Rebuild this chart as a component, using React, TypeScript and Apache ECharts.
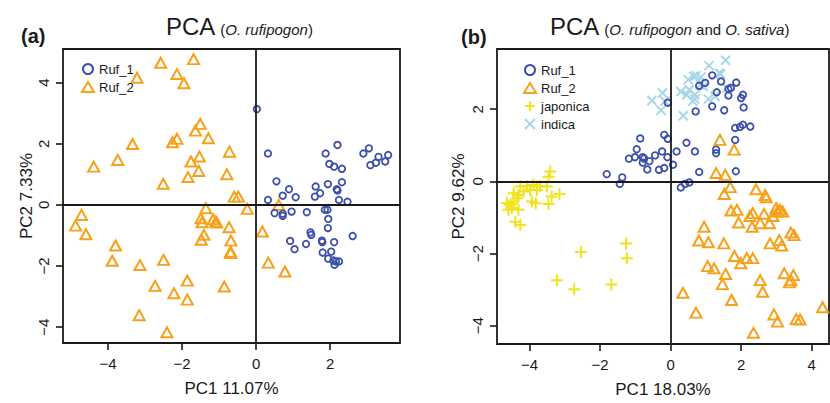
import React, { useEffect, useRef } from "react";
import * as echarts from "echarts";

// ---------- data (PC1, PC2) ----------
const aRuf1: number[][] = [
  [0.02, 3.13], [0.32, 1.68], [2.2, 1.96], [1.88, 1.68], [1.98, 1.34], [2.11, 1.25], [2.32, 1.18], [2.9, 1.68],
  [3.05, 1.85], [3.31, 1.57], [3.57, 1.63], [3.24, 1.38], [3.09, 1.3], [3.49, 1.42],
  [0.55, 0.77], [0.89, 0.51], [0.72, 0.3], [1.07, 0.25], [1.61, 0.6], [1.94, 0.68], [2.32, 0.74], [2.18, 0.51],
  [2.2, 0.47], [1.59, 0.27], [1.73, 0.38], [0.32, 0.16], [2.24, 0.16], [2.47, 0.1],
  [0.5, -0.27], [0.72, -0.29], [0.72, -0.36], [0.96, -0.22], [1.37, -0.24], [1.86, -0.16], [1.93, -0.16],
  [1.95, -0.46], [1.94, -0.76], [1.47, -0.9], [1.49, -0.98], [0.92, -1.18], [1.04, -1.45], [1.35, -1.28],
  [1.78, -1.17], [1.79, -1.22], [2.11, -1.22], [2.61, -1.02], [1.8, -1.56], [2.03, -1.53], [1.95, -1.76],
  [2.09, -1.82], [2.16, -1.85], [2.24, -1.85], [2.12, -1.96],
];

const aRuf2: number[][] = [
  [-2.58, 4.65], [-1.69, 4.77], [-3.22, 4.16], [-2.14, 4.28], [-1.95, 3.98], [-1.51, 2.65], [-1.64, 2.43],
  [-1.29, 2.18], [-2.14, 2.16], [-2.26, 2.05], [-3.34, 1.99], [-0.72, 1.74], [-1.53, 1.58], [-1.76, 1.42],
  [-3.74, 1.47], [-4.39, 1.25], [-1.55, 1.11], [-0.79, 1.0], [-2.51, 0.69], [-1.84, 0.91], [-0.59, 0.27],
  [-0.48, 0.27], [-4.72, -0.33], [-4.88, -0.68], [-4.6, -0.96], [-1.36, -0.11], [-1.49, -0.44], [-1.46, -0.57],
  [-1.16, -0.47], [-1.09, -0.55], [-1.06, -0.58], [-0.73, -0.73], [-1.41, -0.98], [-1.48, -1.14], [-0.68, -1.17],
  [-0.69, -1.53], [-0.69, -1.58], [-3.8, -1.33], [-3.89, -1.83], [-3.14, -1.97], [-2.5, -1.8], [-1.86, -2.48],
  [-2.73, -2.65], [-2.22, -2.89], [-1.86, -3.1], [-0.86, -2.67], [-3.16, -3.61], [-2.41, -4.17],
  [0.61, 0.0], [-0.24, -0.13], [0.17, -0.87], [0.33, -1.89], [0.78, -2.18],
];

const bRuf1: number[][] = [
  [-0.86, 1.19], [-0.18, 1.29], [-0.08, 1.18], [-0.96, 0.89], [-1.01, 0.67], [-1.18, 0.63], [-0.79, 0.67],
  [-0.75, 0.63], [-0.79, 0.52], [-0.6, 0.56], [-0.44, 0.72], [-0.24, 0.83], [-0.09, 0.67], [-0.66, 0.33],
  [-0.33, 0.32], [-0.18, 0.37], [-1.81, 0.2], [-1.37, 0.11], [-1.44, -0.07], [-0.08, 2.18],
  [1.18, 2.94], [1.43, 2.77], [1.86, 2.74], [0.81, 2.65], [0.98, 2.73], [1.31, 2.47], [1.64, 2.56], [1.71, 2.59],
  [1.64, 2.38], [2.05, 2.4], [2.0, 2.31], [2.07, 2.05], [0.71, 1.94], [1.18, 2.08], [1.52, 1.97], [1.83, 1.48],
  [1.97, 1.51], [2.05, 1.57], [2.26, 1.52], [1.83, 1.15], [0.45, 1.07], [0.17, 0.83], [0.69, 0.83], [1.29, 0.88],
  [1.29, 0.78], [0.07, 0.46], [0.81, 0.26], [1.85, 0.28], [0.29, -0.17], [0.41, -0.07], [0.53, -0.03],
];

const bRuf2: number[][] = [
  [1.4, 1.15], [1.8, 0.88], [1.29, 0.23], [1.55, 0.18], [1.69, -0.16], [1.52, -0.35], [2.42, -0.22], [2.68, -0.38],
  [2.71, -0.44], [1.71, -0.81], [1.88, -0.79], [2.25, -0.96], [2.33, -0.88], [2.65, -0.9], [2.99, -0.74],
  [3.1, -0.79], [3.18, -0.84], [3.03, -0.84], [2.9, -0.96], [1.93, -1.14], [2.31, -1.26], [2.54, -1.16],
  [2.8, -1.16], [0.95, -1.26], [0.8, -1.64], [1.07, -1.69], [1.51, -1.72], [2.82, -1.72], [3.08, -1.63],
  [3.15, -1.78], [3.41, -1.42], [3.5, -1.49], [1.81, -2.07], [1.99, -2.27], [2.16, -2.13], [2.33, -2.13],
  [1.05, -2.35], [1.23, -2.41], [1.56, -2.57], [1.47, -2.85], [2.54, -2.74], [2.61, -3.06], [3.22, -2.55],
  [3.48, -2.6], [3.41, -2.74], [3.37, -2.8], [0.35, -3.09], [1.73, -3.29], [0.72, -3.64], [2.93, -3.69],
  [3.03, -3.89], [3.56, -3.82], [3.67, -3.83], [2.35, -4.2], [4.31, -3.49],
];

const bJaponica: number[][] = [
  [-3.41, 0.27], [-3.46, 0.13], [-4.26, -0.14], [-4.07, -0.13], [-3.89, -0.1], [-3.79, -0.14], [-3.7, -0.13],
  [-3.51, -0.14], [-4.45, -0.33], [-4.31, -0.38], [-4.17, -0.28], [-3.98, -0.24], [-3.79, -0.24], [-4.64, -0.61],
  [-4.55, -0.65], [-4.5, -0.74], [-4.6, -0.79], [-4.45, -0.56], [-4.36, -0.47], [-4.31, -0.79], [-3.93, -0.56],
  [-3.82, -0.61], [-3.46, -0.63], [-3.37, -0.42], [-3.15, -0.35], [-4.4, -1.12], [-4.26, -1.21],
  [-1.26, -1.72], [-1.24, -2.13], [-2.54, -1.96], [-3.22, -2.74], [-2.73, -2.99], [-1.68, -2.86],
];

const bIndica: number[][] = [
  [-0.53, 2.24], [-0.23, 2.45], [-0.27, 1.97], [-0.16, 2.22], [0.36, 1.82], [1.56, 3.36], [1.09, 3.21],
  [1.38, 3.0], [1.42, 2.98], [0.5, 2.82], [0.65, 2.91], [0.72, 2.93], [0.86, 2.89], [0.84, 2.68], [0.93, 2.63],
  [0.29, 2.49], [0.46, 2.4], [0.53, 2.54], [0.69, 2.4], [0.63, 2.22], [0.69, 2.28], [1.07, 2.28], [1.26, 2.36],
  [1.59, 2.59],
];

const tickValsA = [-4, -2, 0, 2];
const tickValsAY = [-4, -2, 0, 2, 4];
const tickValsB = [-4, -2, 0, 2, 4];
const tickValsBY = [-4, -2, 0, 2];

const legendA = ["Ruf_1", "Ruf_2"];
const legendB = ["Ruf_1", "Ruf_2", "japonica", "indica"];

// ---------- styling ----------
const FONT = "'Liberation Sans', Arial, sans-serif";
const INK = "#1a1a1a";
const BLUE = "#3b4ea8";
const ORANGE = "#f7a11a";
const YELLOW = "#f0e41e";
const LBLUE = "#a7d7e7";
const PLUS = "path://M0,5L10,5M5,0L5,10";
const CROSS = "path://M0,0L10,10M0,10L10,0";

const fmt = (v: number) => (v < 0 ? "\u2212" + Math.abs(v) : String(v));

function xAxisFor(gridIndex: number, min: number, max: number, ticks: number[], name: string) {
  return {
    type: "value",
    gridIndex,
    min,
    max,
    name,
    nameLocation: "middle",
    nameGap: 37,
    nameTextStyle: { fontFamily: FONT, fontSize: 17, color: INK },
    axisLine: { show: false, onZero: false },
    axisTick: { show: true, length: 7, inside: false, customValues: ticks, lineStyle: { color: INK, width: 1.6 } },
    axisLabel: { customValues: ticks, formatter: fmt, fontFamily: FONT, fontSize: 15, color: INK, margin: 13 },
    splitLine: { show: false },
  };
}

function yAxisFor(gridIndex: number, min: number, max: number, ticks: number[], name: string, gap: number) {
  return {
    type: "value",
    gridIndex,
    min,
    max,
    name,
    nameLocation: "middle",
    nameGap: gap,
    nameRotate: 90,
    nameTextStyle: { fontFamily: FONT, fontSize: 17, color: INK },
    axisLine: { show: false, onZero: false },
    axisTick: { show: true, length: 7, inside: false, customValues: ticks, lineStyle: { color: INK, width: 1.6 } },
    axisLabel: { customValues: ticks, formatter: fmt, rotate: 90, fontFamily: FONT, fontSize: 15, color: INK, margin: 12 },
    splitLine: { show: false },
  };
}

function scatter(name: string, data: number[][], idx: number, symbol: string, size: number | number[], color: string, bw: number, zero = false) {
  const s: any = {
    type: "scatter",
    name,
    data,
    xAxisIndex: idx,
    yAxisIndex: idx,
    symbol,
    symbolSize: size,
    itemStyle: { color: "rgba(0,0,0,0)", borderColor: color, borderWidth: bw, opacity: 1 },
    emphasis: { disabled: true },
  };
  if (zero) {
    s.markLine = {
      silent: true,
      symbol: ["none", "none"],
      label: { show: false },
      lineStyle: { color: INK, width: 1.8, type: "solid" },
      data: [{ xAxis: 0 }, { yAxis: 0 }],
    };
  }
  return s;
}

export default function App() {
  const ref = useRef<HTMLDivElement>(null);
  useEffect(() => {
    document.body.style.margin = "0";
    if (!ref.current) return;
    const chart = echarts.init(ref.current, null, { renderer: "svg" });
    const titleRich = {
      big: { fontFamily: FONT, fontSize: 24, fontWeight: "normal", color: INK },
      sm: { fontFamily: FONT, fontSize: 15, fontWeight: "normal", color: INK, padding: [6, 0, 0, 0] },
      it: { fontFamily: FONT, fontSize: 15, fontWeight: "normal", color: INK, fontStyle: "italic", padding: [6, 0, 0, 0] },
    };
    chart.setOption({
      animation: false,
      backgroundColor: "#ffffff",
      title: [
        { text: "{big|PCA} {sm|(}{it|O. rufipogon}{sm|)}", left: 161, top: 9, textStyle: { fontWeight: "normal", rich: titleRich } },
        { text: "{big|PCA} {sm|(}{it|O. rufipogon}{sm| and }{it|O. sativa}{sm|)}", left: 545, top: 9, textStyle: { fontWeight: "normal", rich: titleRich } },
        { text: "(a)", left: 16, top: 21, textStyle: { fontFamily: FONT, fontSize: 20, fontWeight: "bold", color: INK } },
        { text: "(b)", left: 456, top: 22, textStyle: { fontFamily: FONT, fontSize: 20, fontWeight: "bold", color: INK } },
      ],
      legend: [
        {
          data: legendA,
          orient: "vertical",
          left: 76,
          top: 57,
          itemWidth: 12,
          itemHeight: 10,
          itemGap: 4,
          textStyle: { fontFamily: FONT, fontSize: 13, color: INK, lineHeight: 14 },
          selectedMode: false,
        },
        {
          data: legendB,
          orient: "vertical",
          left: 518,
          top: 58,
          itemWidth: 12,
          itemHeight: 10,
          itemGap: 4,
          textStyle: { fontFamily: FONT, fontSize: 13, color: INK, lineHeight: 14 },
          selectedMode: false,
        },
      ],
      grid: [
        { left: 63, top: 49, width: 337, height: 294, show: true, borderColor: INK, borderWidth: 1.8, backgroundColor: "transparent" },
        { left: 497, top: 49, width: 332, height: 295, show: true, borderColor: INK, borderWidth: 1.8, backgroundColor: "transparent" },
      ],
      xAxis: [
        xAxisFor(0, -5.22, 3.89, tickValsA, "PC1 11.07%"),
        xAxisFor(1, -4.92, 4.49, tickValsB, "PC1 18.03%"),
      ],
      yAxis: [
        yAxisFor(0, -4.52, 5.1, tickValsAY, "PC2 7.33%", 25),
        yAxisFor(1, -4.51, 3.67, tickValsBY, "PC2 9.62%", 30),
      ],
      series: [
        scatter("Ruf_2", aRuf2, 0, "triangle", [11, 10], ORANGE, 2, true),
        scatter("Ruf_1", aRuf1, 0, "circle", 6.5, BLUE, 1.8),
        scatter("indica", bIndica, 1, CROSS, 9, LBLUE, 2, true),
        scatter("japonica", bJaponica, 1, PLUS, 12, YELLOW, 2),
        scatter("Ruf_2", bRuf2, 1, "triangle", [11, 10], ORANGE, 2),
        scatter("Ruf_1", bRuf1, 1, "circle", 6.5, BLUE, 1.8),
      ],
    });
    return () => chart.dispose();
  }, []);
  return <div ref={ref} style={{ width: 830, height: 403 }} />;
}
